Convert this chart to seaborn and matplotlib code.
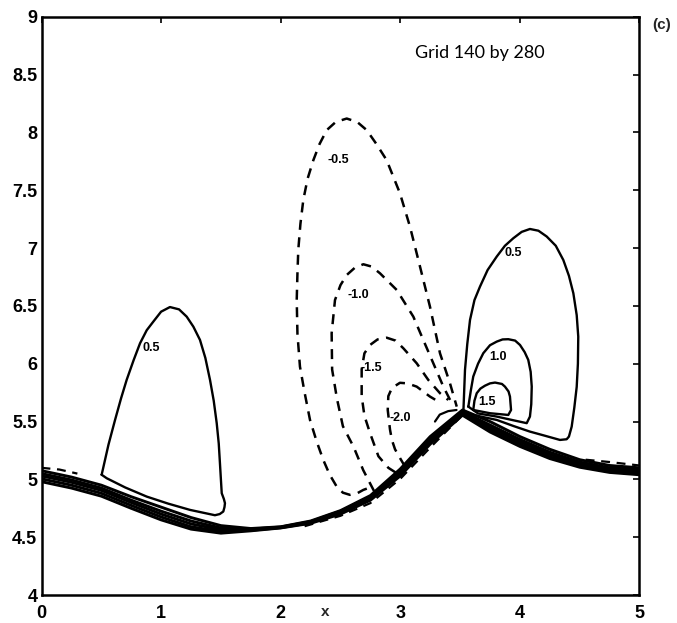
import numpy as np
import pandas as pd
import matplotlib
matplotlib.use("Agg")
import matplotlib.pyplot as plt
import seaborn as sns

# ---------------- data ----------------
# positive (solid) closed contours
left_p05_x = [0.503, 0.56, 0.615, 0.665, 0.712, 0.77, 0.824, 0.88, 0.935, 1.0, 1.074, 1.15, 1.214, 1.27, 1.325, 1.37,
              1.409, 1.44, 1.465, 1.482, 1.492, 1.500, 1.507, 1.525, 1.534, 1.53, 1.52, 1.49, 1.45, 1.242, 1.06, 0.88,
              0.70, 0.545, 0.503]
left_p05_y = [5.04, 5.30, 5.514, 5.70, 5.86, 6.03, 6.177, 6.29, 6.364, 6.45, 6.49, 6.47, 6.407, 6.32, 6.206, 6.05,
              5.86, 5.68, 5.486, 5.31, 5.14, 5.00, 4.88, 4.83, 4.794, 4.76, 4.722, 4.70, 4.69, 4.736, 4.79, 4.851,
              4.93, 5.01, 5.04]

right_p05_x = [3.527, 3.541, 3.56, 3.583, 3.62, 3.666, 3.73, 3.806, 3.875, 3.945, 4.015, 4.084, 4.155, 4.224, 4.30,
               4.363, 4.41, 4.447, 4.475, 4.488, 4.485, 4.475, 4.455, 4.433, 4.41, 4.391, 4.335, 4.2, 4.084, 3.95,
               3.806, 3.61, 3.527]
right_p05_y = [5.572, 5.947, 6.17, 6.379, 6.55, 6.666, 6.81, 6.926, 7.02, 7.085, 7.14, 7.165, 7.15, 7.10, 7.02,
               6.897, 6.76, 6.609, 6.42, 6.234, 6.0, 5.80, 5.62, 5.456, 5.37, 5.347, 5.341, 5.38, 5.413, 5.46,
               5.514, 5.557, 5.572]

right_p10_x = [3.569, 3.59, 3.61, 3.65, 3.694, 3.75, 3.806, 3.855, 3.903, 3.96, 4.001, 4.04, 4.07, 4.09, 4.099,
               4.095, 4.084, 4.057, 3.95, 3.806, 3.65, 3.569]
right_p10_y = [5.629, 5.77, 5.889, 6.0, 6.091, 6.16, 6.191, 6.21, 6.212, 6.2, 6.162, 6.10, 6.033, 5.93, 5.802,
               5.65, 5.543, 5.486, 5.51, 5.543, 5.57, 5.629]

right_p15_x = [3.61, 3.62, 3.639, 3.67, 3.708, 3.75, 3.792, 3.85, 3.875, 3.905, 3.917, 3.926, 3.903, 3.75, 3.61]
right_p15_y = [5.60, 5.68, 5.745, 5.785, 5.81, 5.83, 5.837, 5.825, 5.802, 5.76, 5.716, 5.60, 5.557, 5.572, 5.60]

# negative (dashed) contours
neg05_x = [2.72, 2.691, 2.64, 2.579, 2.52, 2.468, 2.41, 2.356, 2.30, 2.245, 2.20, 2.161, 2.14, 2.134, 2.14, 2.147,
           2.165, 2.189, 2.225, 2.273, 2.325, 2.385, 2.46, 2.552, 2.64, 2.719, 2.80, 2.886, 2.997, 3.081, 3.165,
           3.248, 3.332, 3.415, 3.472]
neg05_y = [4.92, 4.909, 4.88, 4.866, 4.885, 4.938, 5.04, 5.168, 5.33, 5.514, 5.75, 5.975, 6.26, 6.551, 6.78, 6.984,
           7.21, 7.416, 7.60, 7.76, 7.90, 8.02, 8.09, 8.12, 8.09, 8.02, 7.90, 7.76, 7.474, 7.185, 6.839,
           6.494, 6.09, 5.832, 5.629]

neg10_x = [2.78, 2.72, 2.69, 2.61, 2.52, 2.47, 2.43, 2.426, 2.454, 2.50, 2.552, 2.62, 2.691, 2.76, 2.83, 2.97,
           3.109, 3.192, 3.276, 3.36, 3.43]
neg10_y = [4.90, 5.02, 5.08, 5.28, 5.46, 5.70, 5.95, 6.264, 6.551, 6.68, 6.767, 6.83, 6.86, 6.84, 6.782, 6.638,
           6.407, 6.206, 6.004, 5.802, 5.659]

neg15_x = [2.96, 2.90, 2.817, 2.747, 2.70, 2.677, 2.677, 2.70, 2.747, 2.81, 2.886, 2.96, 3.025, 3.137, 3.234,
           3.332, 3.401]
neg15_y = [5.06, 5.10, 5.20, 5.40, 5.55, 5.72, 5.95, 6.09, 6.162, 6.21, 6.225, 6.20, 6.134, 6.004, 5.86,
           5.745, 5.687]

neg20_x = [3.04, 3.0, 2.956, 2.93, 2.914, 2.895, 2.90, 2.93, 2.997, 3.06, 3.137, 3.248, 3.318]
neg20_y = [5.11, 5.18, 5.26, 5.34, 5.43, 5.60, 5.72, 5.79, 5.835, 5.83, 5.802, 5.716, 5.673]

# crowded contours along the interface
band_x = [0.0, 0.25, 0.5, 0.75, 1.0, 1.25, 1.5, 1.75, 2.0, 2.25, 2.5, 2.75, 3.0, 3.25, 3.52,
          3.75, 4.0, 4.25, 4.5, 4.75, 5.0]
band_1 = [5.075, 5.02, 4.95, 4.85, 4.76, 4.67, 4.60, 4.575, 4.59, 4.64, 4.73, 4.86, 5.09, 5.37, 5.60,
          5.50, 5.37, 5.26, 5.17, 5.12, 5.10]
band_2 = [5.05, 4.995, 4.925, 4.82, 4.725, 4.64, 4.58, 4.57, 4.588, 4.635, 4.725, 4.85, 5.075, 5.35, 5.585,
          5.47, 5.345, 5.235, 5.15, 5.10, 5.085]
band_3 = [5.03, 4.975, 4.905, 4.80, 4.70, 4.615, 4.565, 4.565, 4.585, 4.63, 4.72, 4.84, 5.06, 5.335, 5.575,
          5.45, 5.325, 5.215, 5.135, 5.085, 5.07]
band_4 = [5.005, 4.95, 4.88, 4.775, 4.675, 4.59, 4.55, 4.56, 4.582, 4.625, 4.71, 4.83, 5.045, 5.32, 5.565,
          5.43, 5.305, 5.195, 5.12, 5.07, 5.055]
band_5 = [4.98, 4.925, 4.855, 4.75, 4.65, 4.57, 4.535, 4.555, 4.58, 4.62, 4.70, 4.82, 5.03, 5.305, 5.555,
          5.41, 5.285, 5.18, 5.105, 5.06, 5.04]

chain_x = [2.2, 2.5, 2.75, 3.0, 3.25, 3.5]
chain_1 = [4.595, 4.685, 4.795, 5.005, 5.275, 5.535]
chain_2 = [4.62, 4.71, 4.83, 5.045, 5.315, 5.565]

dash_left_x = [0.0, 0.15, 0.3]
dash_left_y = [5.10, 5.085, 5.05]
dash_right_x = [4.55, 4.75, 5.0]
dash_right_y = [5.17, 5.15, 5.12]

curl_x = [3.29, 3.33, 3.40, 3.47]
curl_y = [5.50, 5.56, 5.59, 5.60]

# contour labels
lab_text = ["0.5", "-0.5", "-1.0", "-1.5", "-2.0", "0.5", "1.0", "1.5"]
lab_x = [0.921, 2.482, 2.649, 2.761, 2.997, 3.945, 3.82, 3.722]
lab_y = [6.134, 7.761, 6.595, 5.961, 5.529, 6.955, 6.061, 5.672]

x_ticks = [0, 1, 2, 3, 4, 5]
y_ticks = [4, 4.5, 5, 5.5, 6, 6.5, 7, 7.5, 8, 8.5, 9]
y_tick_labels = ["4", "4.5", "5", "5.5", "6", "6.5", "7", "7.5", "8", "8.5", "9"]

# ---------------- drawing ----------------
sns.set_theme(style="white")
plt.rcParams['font.family'] = ['Liberation Sans', 'DejaVu Sans']

fig = plt.figure(figsize=(6.77, 6.23), dpi=100)
ax = fig.add_axes([0.0613, 0.0449, 0.8833, 0.9282])

DASH = (0, (4.0, 3.0))


def draw(xs, ys, dashed=False, lw=1.6):
    df = pd.DataFrame({"x": xs, "y": ys})
    sns.lineplot(data=df, x="x", y="y", sort=False, estimator=None, ax=ax,
                 color="black", lw=lw, linestyle=DASH if dashed else "-")


for xs, ys in [(left_p05_x, left_p05_y), (right_p05_x, right_p05_y),
               (right_p10_x, right_p10_y), (right_p15_x, right_p15_y)]:
    draw(xs, ys, lw=1.7)

for xs, ys in [(neg05_x, neg05_y), (neg10_x, neg10_y), (neg15_x, neg15_y), (neg20_x, neg20_y)]:
    draw(xs, ys, dashed=True, lw=1.8)

for b in [band_1, band_2, band_3, band_4, band_5]:
    draw(band_x, b, lw=2.1)
for c in [chain_1, chain_2]:
    draw(chain_x, c, dashed=True, lw=1.6)
draw(dash_left_x, dash_left_y, dashed=True, lw=1.6)
draw(dash_right_x, dash_right_y, dashed=True, lw=1.6)
draw(curl_x, curl_y, lw=1.6)

for t, x, y in zip(lab_text, lab_x, lab_y):
    ax.text(x, y, t, fontsize=9, fontweight="bold", ha="center", va="center", color="black")

ax.text(3.667, 8.69, "Grid 140 by 280", fontsize=13, family=["Lato", "DejaVu Sans"],
        ha="center", va="center", color="black")

ax.set_xlim(0, 5)
ax.set_ylim(4, 9)
ax.set_xticks(x_ticks)
ax.set_xticklabels([str(v) for v in x_ticks])
ax.set_yticks(y_ticks)
ax.set_yticklabels(y_tick_labels)
ax.set_xlabel("")
ax.set_ylabel("")
ax.tick_params(direction="in", top=True, right=True, length=4, width=1.2,
               labelsize=13, colors="black")
ax.tick_params(axis="x", pad=7)
ax.tick_params(axis="y", pad=3)
for lbl in ax.get_xticklabels() + ax.get_yticklabels():
    lbl.set_fontweight("bold")
for s in ax.spines.values():
    s.set_color("black")
    s.set_linewidth(1.8)
ax.grid(False)

fig.text(0.48, 0.018, "x", fontsize=11, fontweight="bold", ha="center", va="center")
fig.text(0.977, 0.96, "(c)", fontsize=11, fontweight="bold", ha="center", va="center")

fig.savefig("out.png", dpi=100)
